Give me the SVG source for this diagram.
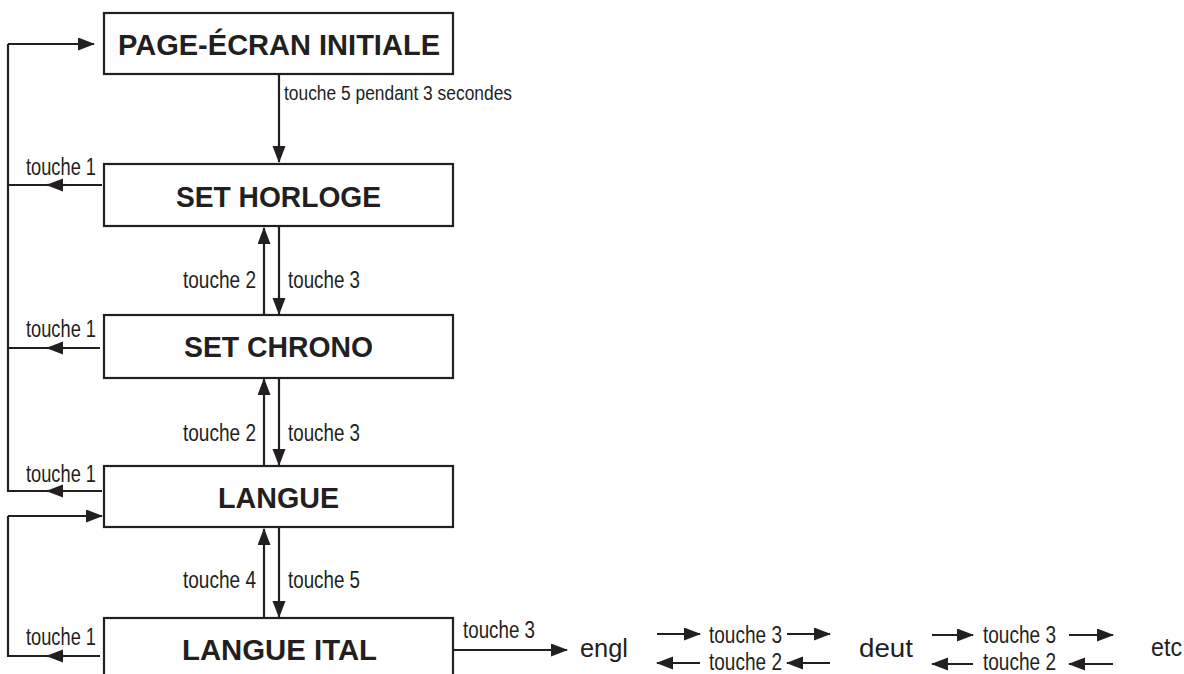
<svg xmlns="http://www.w3.org/2000/svg" width="1184" height="674" viewBox="0 0 1184 674">
  <style>
    .box { fill: #ffffff; stroke: #231f20; stroke-width: 2.2; }
    .title { font-family: "Liberation Sans", Arial, sans-serif; font-weight: bold; font-size: 29px; fill: #231f20; }
    .lbl { font-family: "Liberation Sans Narrow", "Liberation Sans", Arial, sans-serif; font-size: 23px; fill: #231f20; }
    .lbl-s { font-family: "Liberation Sans Narrow", "Liberation Sans", Arial, sans-serif; font-size: 19.5px; fill: #231f20; }
    .lang { font-family: "Liberation Sans", Arial, sans-serif; font-size: 25px; fill: #231f20; }
    .wire { fill: none; stroke: #231f20; stroke-width: 2.2; stroke-linejoin: miter; }
    .arr { fill: none; stroke: #231f20; stroke-width: 2.2; marker-end: url(#head); }
  </style>
  <defs>
    <marker id="head" markerUnits="userSpaceOnUse" markerWidth="18" markerHeight="14" refX="16" refY="6.5" orient="auto">
      <path d="M0,0 L17,6.5 L0,13 z" fill="#231f20"/>
    </marker>
  </defs>

  <rect width="1184" height="674" fill="#ffffff"/>

  <!-- state boxes -->
  <g id="page-ecran-initiale">
    <rect class="box" x="104" y="13" width="349" height="61"/>
    <text class="title" x="118" y="55" textLength="322" lengthAdjust="spacingAndGlyphs">PAGE-ÉCRAN INITIALE</text>
  </g>
  <g id="set-horloge">
    <rect class="box" x="104" y="164" width="349" height="62"/>
    <text class="title" x="176" y="207" textLength="205" lengthAdjust="spacingAndGlyphs">SET HORLOGE</text>
  </g>
  <g id="set-chrono">
    <rect class="box" x="104" y="315" width="349" height="63"/>
    <text class="title" x="184" y="357" textLength="189" lengthAdjust="spacingAndGlyphs">SET CHRONO</text>
  </g>
  <g id="langue">
    <rect class="box" x="104" y="466" width="349" height="61"/>
    <text class="title" x="218" y="508" textLength="121" lengthAdjust="spacingAndGlyphs">LANGUE</text>
  </g>
  <g id="langue-ital">
    <rect class="box" x="104" y="618" width="349" height="80"/>
    <text class="title" x="182" y="660" textLength="195" lengthAdjust="spacingAndGlyphs">LANGUE ITAL</text>
  </g>
  <g id="engl">
    <text class="lang" x="580" y="657" textLength="48" lengthAdjust="spacingAndGlyphs">engl</text>
  </g>
  <g id="deut">
    <text class="lang" x="859" y="657" textLength="54" lengthAdjust="spacingAndGlyphs">deut</text>
  </g>
  <g id="etc">
    <text class="lang" x="1151" y="656" textLength="31" lengthAdjust="spacingAndGlyphs">etc</text>
  </g>

  <!-- connectors -->
  <g id="connectors">
    <!-- touche 1 return loop to the initial page -->
    <path class="wire" d="M102,491 H8 V44"/>
    <path class="arr" d="M8,44 H94"/>
    <path class="wire" d="M102,185 H8"/>
    <path class="wire" d="M100,348 H8"/>
    <path class="arr" d="M65,185 H47"/>
    <path class="arr" d="M65,348 H47"/>
    <path class="arr" d="M65,491 H47"/>
    <!-- touche 1 from LANGUE ITAL back to LANGUE -->
    <path class="wire" d="M100,656 H8 V516"/>
    <path class="arr" d="M8,516 H102"/>
    <path class="arr" d="M65,656 H47"/>

    <!-- vertical transitions -->
    <path class="arr" d="M279,74 V162"/>
    <path class="arr" d="M264,315 V228"/>
    <path class="arr" d="M279,226 V314"/>
    <path class="arr" d="M264,466 V379"/>
    <path class="arr" d="M279,378 V465"/>
    <path class="arr" d="M264,618 V529"/>
    <path class="arr" d="M279,527 V617"/>

    <!-- language cycle -->
    <path class="arr" d="M453,650 H567"/>
    <path class="arr" d="M657,634 H700"/>
    <path class="arr" d="M787,634 H830"/>
    <path class="arr" d="M700,663 H657"/>
    <path class="arr" d="M830,663 H787"/>
    <path class="arr" d="M932,635 H973"/>
    <path class="arr" d="M1069,635 H1113"/>
    <path class="arr" d="M973,664 H932"/>
    <path class="arr" d="M1113,664 H1069"/>
  </g>

  <!-- connector labels -->
  <g id="labels">
    <text class="lbl-s" x="284" y="100" textLength="228" lengthAdjust="spacingAndGlyphs">touche 5 pendant 3 secondes</text>
    <text class="lbl" x="26" y="175" textLength="70" lengthAdjust="spacingAndGlyphs">touche 1</text>
    <text class="lbl" x="26" y="337" textLength="70" lengthAdjust="spacingAndGlyphs">touche 1</text>
    <text class="lbl" x="26" y="482" textLength="70" lengthAdjust="spacingAndGlyphs">touche 1</text>
    <text class="lbl" x="26" y="645" textLength="70" lengthAdjust="spacingAndGlyphs">touche 1</text>
    <text class="lbl" x="183" y="288" textLength="73" lengthAdjust="spacingAndGlyphs">touche 2</text>
    <text class="lbl" x="288" y="288" textLength="72" lengthAdjust="spacingAndGlyphs">touche 3</text>
    <text class="lbl" x="183" y="441" textLength="73" lengthAdjust="spacingAndGlyphs">touche 2</text>
    <text class="lbl" x="288" y="441" textLength="72" lengthAdjust="spacingAndGlyphs">touche 3</text>
    <text class="lbl" x="183" y="588" textLength="73" lengthAdjust="spacingAndGlyphs">touche 4</text>
    <text class="lbl" x="288" y="588" textLength="72" lengthAdjust="spacingAndGlyphs">touche 5</text>
    <text class="lbl" x="463" y="638" textLength="72" lengthAdjust="spacingAndGlyphs">touche 3</text>
    <text class="lbl" x="709" y="643" textLength="73" lengthAdjust="spacingAndGlyphs">touche 3</text>
    <text class="lbl" x="709" y="670" textLength="73" lengthAdjust="spacingAndGlyphs">touche 2</text>
    <text class="lbl" x="983" y="643" textLength="73" lengthAdjust="spacingAndGlyphs">touche 3</text>
    <text class="lbl" x="983" y="670" textLength="73" lengthAdjust="spacingAndGlyphs">touche 2</text>
  </g>
</svg>
